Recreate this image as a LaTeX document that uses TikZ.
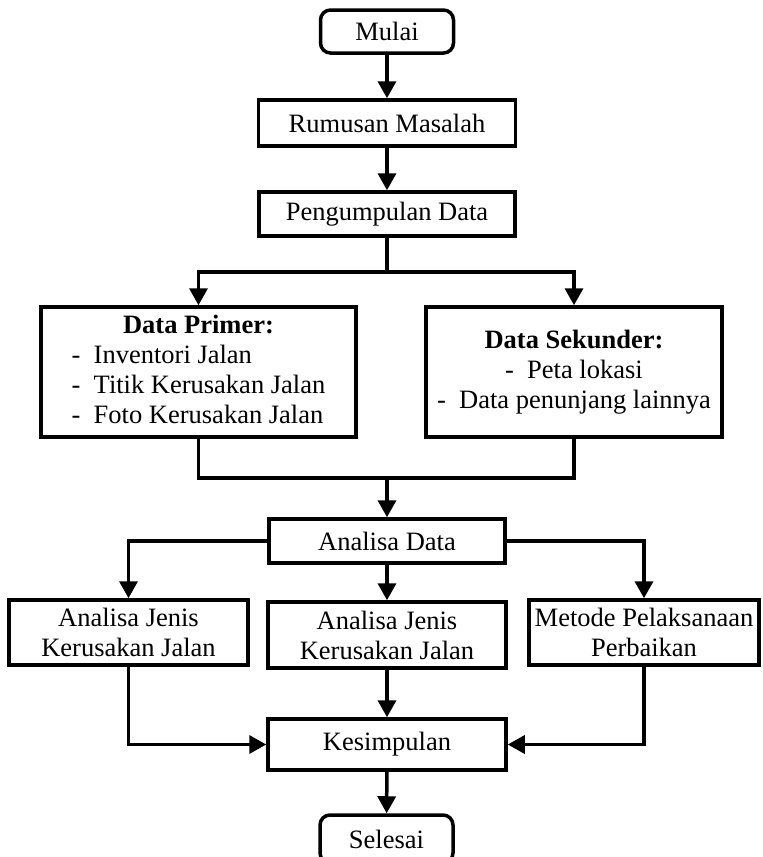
\documentclass[tikz,border=0pt]{standalone}
\usepackage{fontspec}
\setmainfont{Liberation Serif}
\usetikzlibrary{arrows.meta}

\begin{document}
\begin{tikzpicture}
  [x=1pt,y=-1pt,line width=3.5pt,>={Triangle[length=17pt,width=18pt]},
   every node/.style={draw,rectangle,inner sep=0pt,align=center,font=\fontsize{26.5}{30}\selectfont},
   terminal/.style={rounded corners=10pt,minimum width=133pt,minimum height=43pt}]
  \useasboundingbox (0,0) rectangle (763,857);

  \node[terminal] (1) at (387,31.5) {Mulai};
  \node[minimum width=257pt,minimum height=46pt] (2) at (387,123) {Rumusan Masalah};
  \node[minimum width=256pt,minimum height=44pt] (3) at (387,214) {Pengumpulan Data};
  \node[minimum width=315pt,minimum height=130pt] (4) at (198.5,372)
    {\begin{tabular}{@{}l@{}}\multicolumn{1}{c}{\bfseries Data Primer:}\\
     -\enspace Inventori Jalan\\ -\enspace Titik Kerusakan Jalan\\ -\enspace Foto Kerusakan Jalan\end{tabular}};
  \node[minimum width=296pt,minimum height=130pt] (5) at (574,372)
    {{\bfseries Data Sekunder:}\\ -\enspace Peta lokasi\\ -\enspace Data penunjang lainnya};
  \node[minimum width=236pt,minimum height=44pt] (6) at (387,541) {Analisa Data};
  \node[minimum width=239pt,minimum height=65pt] (7) at (128.5,632.5) {Analisa Jenis\\Kerusakan Jalan};
  \node[minimum width=238pt,minimum height=66pt] (8) at (387,635) {Analisa Jenis\\Kerusakan Jalan};
  \node[minimum width=230pt,minimum height=65pt] (9) at (644,632.5) {Metode Pelaksanaan\\Perbaikan};
  \node[minimum width=238pt,minimum height=51pt] (10) at (387,744.5) {Kesimpulan};
  \node[terminal,minimum height=48pt] (11) at (386.5,839) {Selesai};

  \coordinate (a) at (387,272);
  \coordinate (b) at (387,478);

  \foreach \from/\to in {1/2,2/3,6/8,8/10,10/11}
    \draw[->] (\from) -- (\to);

  \draw (3) -- (a);
  \draw[->] (a) -| (4);
  \draw[->] (a) -| (5);
  \draw (4) |- (b) -| (5);
  \draw[->] (b) -- (6);
  \draw[->] (6) -| (7);
  \draw[->] (6) -| (9);
  \draw[->] (7) |- (10);
  \draw[->] (9) |- (10);

\end{tikzpicture}
\end{document}
